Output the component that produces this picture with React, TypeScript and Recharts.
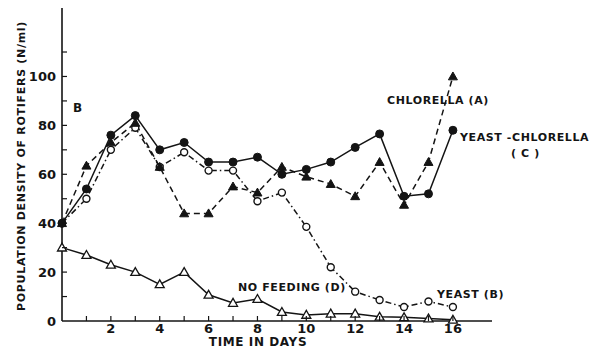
import React from "react"
import { LineChart, Line, XAxis, YAxis } from "recharts"

// days 0..16
const days = [0, 1, 2, 3, 4, 5, 6, 7, 8, 9, 10, 11, 12, 13, 14, 15, 16]
const chlorellaA = [40, 63.5, 73, 81, 63, 44, 44, 55, 52.5, 63, 59, 56, 51, 65, 47.5, 65, 100]
const yeastB = [40, 50, 70, 79, 63, 69, 61.5, 61.5, 49, 52.5, 38.5, 22, 12, 8.6, 5.7, 8, 5.7]
const yeastChlorellaC = [40, 54, 76, 84, 70, 73, 65, 65, 67, 60, 62, 65, 71, 76.5, 51, 52, 78]
const noFeedingD = [30, 27, 23, 20, 15, 20, 10.7, 7.4, 9, 3.7, 2.5, 3, 3, 1.7, 1.5, 1, 0.5]

const xTicks = [1, 2, 3, 4, 5, 6, 7, 8, 9, 10, 11, 12, 13, 14, 15, 16]
const xLabels = [2, 4, 6, 8, 10, 12, 14, 16]
const yTicks = [0, 10, 20, 30, 40, 50, 60, 70, 80, 90, 100, 110]
const yLabels = [0, 20, 40, 60, 80, 100]

const data = days.map((d, i) => ({
  day: d,
  A: chlorellaA[i],
  B: yeastB[i],
  C: yeastChlorellaC[i],
  D: noFeedingD[i],
}))

const INK = "#141414"
const FONT = "'DejaVu Sans', sans-serif"

const XTick = (props: any) => {
  const { x, y, payload } = props
  return (
    <g>
      <line x1={x} y1={y} x2={x} y2={y - 5} stroke={INK} strokeWidth={1.2} />
      {xLabels.includes(payload.value) && (
        <text x={x} y={y + 12} textAnchor="middle" fontSize={13} fontWeight="bold" fill={INK} fontFamily={FONT}>
          {payload.value}
        </text>
      )}
    </g>
  )
}

const YTick = (props: any) => {
  const { x, y, payload } = props
  return (
    <g>
      {payload.value > 0 && <line x1={x} y1={y} x2={x + 5} y2={y} stroke={INK} strokeWidth={1.2} />}
      {yLabels.includes(payload.value) && (
        <text x={x - 6} y={y + 5} textAnchor="end" fontSize={13} fontWeight="bold" fill={INK} fontFamily={FONT}>
          {payload.value}
        </text>
      )}
    </g>
  )
}

const FilledCircle = (p: any) => <circle key={p.key} cx={p.cx} cy={p.cy} r={4} fill={INK} stroke={INK} />
const OpenCircle = (p: any) => <circle key={p.key} cx={p.cx} cy={p.cy} r={3.5} fill="#fff" stroke={INK} strokeWidth={1.4} />

const tri = (cx: number, cy: number, s: number) =>
  `${cx},${cy - s} ${cx - s},${cy + s * 0.75} ${cx + s},${cy + s * 0.75}`

const FilledTriangle = (p: any) => <polygon key={p.key} points={tri(p.cx, p.cy, 4.5)} fill={INK} stroke={INK} />
const OpenTriangle = (p: any) => (
  <polygon key={p.key} points={tri(p.cx, p.cy, 4.5)} fill="#fff" stroke={INK} strokeWidth={1.3} />
)

const labelStyle = { fontSize: 11, fontWeight: "bold" as const, fill: INK, fontFamily: FONT, letterSpacing: 0.6 }

export default function App() {
  return (
    <div style={{ position: "absolute", left: 0, top: 0, background: "#fff" }}>
      <LineChart width={600} height={356} data={data} margin={{ top: 8, right: 108, bottom: 0, left: 0 }}>
        <XAxis
          dataKey="day"
          type="number"
          domain={[0, 17.6]}
          ticks={xTicks}
          tick={<XTick />}
          tickLine={false}
          tickSize={0}
          tickMargin={0}
          height={35}
          axisLine={{ stroke: INK, strokeWidth: 1.6 }}
          interval={0}
        />
        <YAxis
          type="number"
          domain={[0, 128]}
          ticks={yTicks}
          tick={<YTick />}
          tickLine={false}
          tickSize={0}
          tickMargin={0}
          width={62}
          axisLine={{ stroke: INK, strokeWidth: 1.6 }}
          interval={0}
        />
        <Line dataKey="D" stroke={INK} strokeWidth={1.5} dot={OpenTriangle} isAnimationActive={false} />
        <Line dataKey="B" stroke={INK} strokeWidth={1.5} strokeDasharray="6 3 1.5 3" dot={OpenCircle} isAnimationActive={false} />
        <Line dataKey="A" stroke={INK} strokeWidth={1.5} strokeDasharray="6 4" dot={FilledTriangle} isAnimationActive={false} />
        <Line dataKey="C" stroke={INK} strokeWidth={1.5} dot={FilledCircle} isAnimationActive={false} />
        <text x={258} y={346} textAnchor="middle" {...labelStyle} fontSize={12}>TIME IN DAYS</text>
        <text x={0} y={0} transform="translate(25,166) rotate(-90)" textAnchor="middle" {...labelStyle} letterSpacing={0.7}>
          POPULATION DENSITY OF ROTIFERS (N/ml)
        </text>
        <text x={73} y={112} {...labelStyle} fontSize={12}>B</text>
        <text x={387} y={104} {...labelStyle}>CHLORELLA (A)</text>
        <text x={460} y={141} {...labelStyle}>YEAST -CHLORELLA</text>
        <text x={511} y={157} {...labelStyle}>( C )</text>
        <text x={238} y={291} {...labelStyle}>NO FEEDING (D)</text>
        <text x={437} y={298} {...labelStyle}>YEAST (B)</text>
      </LineChart>
    </div>
  )
}
